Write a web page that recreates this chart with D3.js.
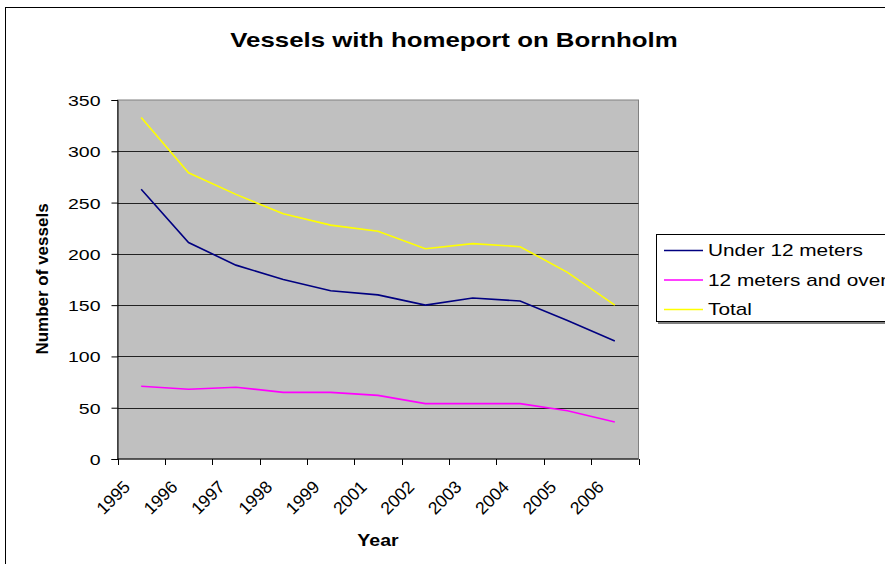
<!DOCTYPE html>
<html>
<head>
<meta charset="utf-8">
<script src="https://cdn.jsdelivr.net/npm/d3@7"></script>
<style>
  body { margin: 0; background: #fff; }
  svg { display: block; font-family: "Liberation Sans", Arial, sans-serif; }
</style>
</head>
<body>
<div id="chart"></div>
<script>
// data
var years = ["1995", "1996", "1997", "1998", "1999", "2001", "2002", "2003", "2004", "2005", "2006"];
var under12 = [263, 211, 189, 175, 164, 160, 150, 157, 154, 135, 115];
var over12 = [71, 68, 70, 65, 65, 62, 54, 54, 54, 47, 36];
var total = [333, 279, 258, 239, 228, 222, 205, 210, 207, 182, 150];
var seriesNames = ["Under 12 meters", "12 meters and over", "Total"];
var seriesColors = ["#000080", "#ff00ff", "#ffff00"];
var yTicks = [0, 50, 100, 150, 200, 250, 300, 350];

var width = 885, height = 564;
var plot = {left: 117.5, right: 638.5, top: 100, bottom: 459};
var sx = 1.3; // the original picture is stretched sideways

var svg = d3.select('#chart')
  .append('svg')
  .attr('width', width)
  .attr('height', height);

// chart area frame
svg.append('rect')
  .attr('x', 5.5).attr('y', 7.5)
  .attr('width', 900).attr('height', 600)
  .attr('fill', '#fff')
  .attr('stroke', '#000');

var x = d3.scaleBand().domain(years).range([plot.left, plot.right]);
var y = d3.scaleLinear().domain([0, 350]).range([plot.bottom, plot.top]);

// plot background
svg.append('rect')
  .attr('x', plot.left).attr('y', plot.top)
  .attr('width', plot.right - plot.left).attr('height', plot.bottom - plot.top)
  .attr('fill', '#c0c0c0')
  .attr('stroke', '#808080');

// gridlines
svg.append('g').selectAll('line')
  .data(yTicks.filter(function (d) {return d > 0 && d < 350;}))
  .enter().append('line')
  .attr('x1', plot.left).attr('x2', plot.right)
  .attr('y1', function (d) {return Math.round(y(d)) + 0.5;})
  .attr('y2', function (d) {return Math.round(y(d)) + 0.5;})
  .attr('stroke', '#222')
  .attr('stroke-width', 1);

// y axis
var yAxis = svg.append('g')
  .attr('transform', 'translate(' + plot.left + ',0)')
  .call(d3.axisLeft(y).tickValues(yTicks).tickSize(6).tickPadding(0).tickFormat(d3.format('d')));
yAxis.select('.domain').attr('stroke', '#000');
yAxis.selectAll('.tick line').attr('stroke', '#000');
yAxis.selectAll('.tick text').remove();
yAxis.selectAll('.tick').append('text')
  .attr('fill', '#000')
  .attr('font-size', 15)
  .attr('text-anchor', 'end')
  .attr('transform', 'translate(-17,5.5) scale(' + sx + ',1)')
  .text(function (d) {return d;});

// x axis, ticks on category borders
var xAxis = svg.append('g')
  .attr('transform', 'translate(0,' + plot.bottom + ')');
xAxis.append('line')
  .attr('x1', plot.left).attr('x2', plot.right)
  .attr('stroke', '#000');
xAxis.selectAll('.xtick')
  .data(years.concat(['end']))
  .enter().append('line')
  .attr('class', 'xtick')
  .attr('x1', function (d, i) {return Math.round(plot.left + i * x.step()) + 0.5;})
  .attr('x2', function (d, i) {return Math.round(plot.left + i * x.step()) + 0.5;})
  .attr('y1', 0).attr('y2', 6)
  .attr('stroke', '#000');
xAxis.selectAll('.xlabel')
  .data(years)
  .enter().append('text')
  .attr('class', 'xlabel')
  .attr('font-size', 17.5)
  .attr('text-anchor', 'end')
  .attr('transform', function (d) {
    return 'translate(' + (x(d) + x.bandwidth() / 2 - 10) + ',29) rotate(-45)';
  })
  .text(function (d) {return d;});

// lines
var line = d3.line()
  .x(function (d, i) {return x(years[i]) + x.bandwidth() / 2;})
  .y(function (d) {return y(d);});

[under12, over12, total].forEach(function (vals, i) {
  svg.append('path')
    .datum(vals)
    .attr('fill', 'none')
    .attr('stroke', seriesColors[i])
    .attr('stroke-width', 1.6)
    .attr('d', line);
});

// title
svg.append('text')
  .attr('transform', 'translate(454,46.5) scale(1.23,1)')
  .attr('text-anchor', 'middle')
  .attr('font-size', 21)
  .attr('font-weight', 'bold')
  .text('Vessels with homeport on Bornholm');

// axis titles
svg.append('text')
  .attr('transform', 'translate(378,546) scale(1.15,1)')
  .attr('text-anchor', 'middle')
  .attr('font-size', 17)
  .attr('font-weight', 'bold')
  .text('Year');

svg.append('text')
  .attr('transform', 'translate(48,279) rotate(-90)')
  .attr('text-anchor', 'middle')
  .attr('font-size', 17)
  .attr('font-weight', 'bold')
  .text('Number of vessels');

// legend
var legend = svg.append('g').attr('transform', 'translate(656,234)');
legend.append('rect')
  .attr('x', 2).attr('y', 2)
  .attr('width', 260).attr('height', 88)
  .attr('fill', '#808080');
legend.append('rect')
  .attr('x', 0.5).attr('y', 0.5)
  .attr('width', 260).attr('height', 87)
  .attr('fill', '#fff')
  .attr('stroke', '#000');
var item = legend.selectAll('.item')
  .data(seriesNames)
  .enter().append('g')
  .attr('class', 'item')
  .attr('transform', function (d, i) {return 'translate(0,' + (16.5 + i * 29.5) + ')';});
item.append('line')
  .attr('x1', 8).attr('x2', 47)
  .attr('stroke', function (d, i) {return seriesColors[i];})
  .attr('stroke-width', 1.6);
item.append('text')
  .attr('transform', 'translate(52,5.5) scale(' + sx + ',1)')
  .attr('font-size', 16)
  .text(function (d) {return d;});
</script>
</body>
</html>
